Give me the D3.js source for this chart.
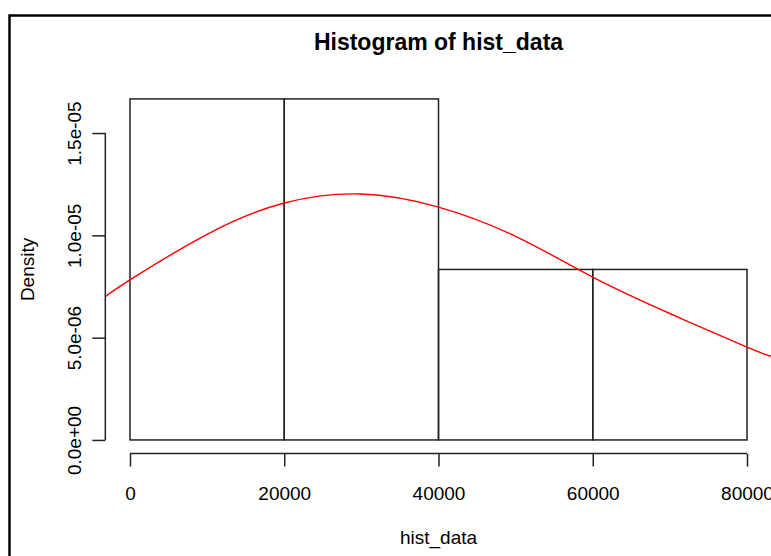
<!DOCTYPE html>
<html>
<head>
<meta charset="utf-8">
<script src="https://cdn.jsdelivr.net/npm/d3@7"></script>
<style>
  html, body { margin: 0; padding: 0; background: #fff; }
  svg { display: block; }
  text { font-family: "Liberation Sans", Arial, Helvetica, sans-serif; fill: #000; }
</style>
</head>
<body>
<svg id="chart" width="771" height="556"></svg>
<script>
// Histogram bins (break points) and their densities
const breaks = [0, 20000, 40000, 60000, 80000];
const binDensity = [1.6667e-5, 1.6667e-5, 8.333e-6, 8.333e-6];

// Normal density overlay, sampled along x
const curveX = [-3200, 0, 10000, 20000, 30000, 40000, 50000, 60000, 70000, 80000, 83200];
const curveY = [7.0e-6, 7.82e-6, 1.005e-5, 1.158e-5, 1.202e-5, 1.138e-5, 9.95e-6, 7.96e-6, 6.18e-6, 4.54e-6, 4.08e-6];

// Axis ticks
const xTicks = [0, 20000, 40000, 60000, 80000];
const xTickLabels = ["0", "20000", "40000", "60000", "80000"];
const yTicks = [0, 5e-6, 1e-5, 1.5e-5];
const yTickLabels = ["0.0e+00", "5.0e-06", "1.0e-05", "1.5e-05"];

const svg = d3.select("#chart");

// frame around the figure
svg.append("path")
  .attr("d", "M9.5,560 V15.5 H780")
  .attr("fill", "none")
  .attr("stroke", "#000")
  .attr("stroke-width", 2.5);

// plot region (data range padded by 4% on each side)
const x = d3.scaleLinear().domain([-3200, 83200]).range([105.32, 771.68]);
const y = d3.scaleLinear().domain([-6.667e-7, 1.7333e-5]).range([453.6, 85.3]);
const midX = (x.range()[0] + x.range()[1]) / 2;
const midY = (y.range()[0] + y.range()[1]) / 2;

const plot = svg.append("g");

// bars
plot.selectAll("rect.bar")
  .data(binDensity)
  .join("rect")
  .attr("class", "bar")
  .attr("x", (d, i) => x(breaks[i]))
  .attr("width", (d, i) => x(breaks[i + 1]) - x(breaks[i]))
  .attr("y", d => y(d))
  .attr("height", d => y(0) - y(d))
  .attr("fill", "none")
  .attr("stroke", "#222")
  .attr("stroke-width", 1.5);

// density curve, clipped to the plot region
svg.append("clipPath").attr("id", "plotClip")
  .append("rect")
  .attr("x", x.range()[0]).attr("y", y.range()[1])
  .attr("width", x.range()[1] - x.range()[0])
  .attr("height", y.range()[0] - y.range()[1]);

const line = d3.line()
  .x(d => x(d[0]))
  .y(d => y(d[1]))
  .curve(d3.curveNatural);

plot.append("path")
  .datum(curveX.map((v, i) => [v, curveY[i]]))
  .attr("clip-path", "url(#plotClip)")
  .attr("d", line)
  .attr("fill", "none")
  .attr("stroke", "#ff0000")
  .attr("stroke-width", 1.4);

// x axis
const xAxis = svg.append("g").attr("transform", `translate(0,${y.range()[0]})`);
xAxis.call(d3.axisBottom(x).tickValues(xTicks).tickSize(13).tickSizeOuter(0)
  .tickFormat((d, i) => xTickLabels[i]));
xAxis.select(".domain").remove();
xAxis.append("line")
  .attr("x1", x(xTicks[0])).attr("x2", x(xTicks[xTicks.length - 1]))
  .attr("stroke", "#222").attr("stroke-width", 1.5);
xAxis.selectAll(".tick line").attr("stroke", "#222").attr("stroke-width", 1.5);
xAxis.selectAll(".tick text")
  .attr("y", 40).attr("dy", "0.35em")
  .attr("font-size", 19).attr("fill", "#000");
xAxis.attr("font-family", null);

// y axis
const yAxis = svg.append("g").attr("transform", `translate(${x.range()[0]},0)`);
yAxis.call(d3.axisLeft(y).tickValues(yTicks).tickSize(13).tickSizeOuter(0)
  .tickFormat((d, i) => yTickLabels[i]));
yAxis.select(".domain").remove();
yAxis.append("line")
  .attr("y1", y(yTicks[0])).attr("y2", y(yTicks[yTicks.length - 1]))
  .attr("stroke", "#222").attr("stroke-width", 1.5);
yAxis.selectAll(".tick line").attr("stroke", "#222").attr("stroke-width", 1.5);
yAxis.selectAll(".tick text")
  .attr("x", null)
  .attr("transform", "translate(-31,0) rotate(-90)")
  .attr("text-anchor", "middle")
  .attr("dy", "0.35em")
  .attr("font-size", 19).attr("fill", "#000");
yAxis.attr("font-family", null);

// titles, centred on the plot region
svg.append("text")
  .attr("x", midX).attr("y", 42)
  .attr("dy", "0.35em")
  .attr("text-anchor", "middle")
  .attr("font-size", 23).attr("font-weight", "bold")
  .text("Histogram of hist_data");

svg.append("text")
  .attr("x", midX).attr("y", 537)
  .attr("dy", "0.35em")
  .attr("text-anchor", "middle")
  .attr("font-size", 19)
  .text("hist_data");

svg.append("text")
  .attr("transform", `translate(27,${midY}) rotate(-90)`)
  .attr("dy", "0.35em")
  .attr("text-anchor", "middle")
  .attr("font-size", 19)
  .text("Density");
</script>
</body>
</html>
